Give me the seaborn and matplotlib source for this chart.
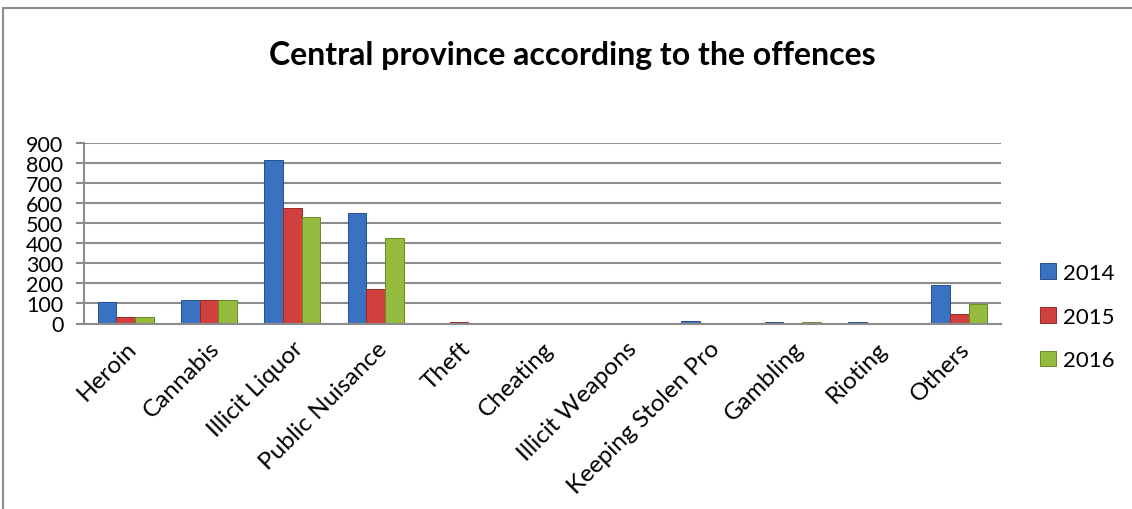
import matplotlib
matplotlib.use("Agg")
import matplotlib.pyplot as plt
from matplotlib.lines import Line2D
import seaborn as sns
import pandas as pd

# Offence categories and yearly counts
offences = ["Heroin", "Cannabis", "Illicit Liquor", "Public Nuisance", "Theft",
            "Cheating", "Illicit Weapons", "Keeping Stolen Pro", "Gambling",
            "Rioting", "Others"]
years = ["2014", "2015", "2016"]
counts_2014 = [105, 115, 815, 553, 0, 3, 0, 14, 5, 9, 190]
counts_2015 = [30, 115, 575, 170, 5, 0, 0, 0, 0, 0, 45]
counts_2016 = [30, 115, 530, 428, 0, 0, 0, 0, 5, 0, 95]
y_ticks = [0, 100, 200, 300, 400, 500, 600, 700, 800, 900]

colors = {"2014": "#3a72c2", "2015": "#d0403c", "2016": "#95bb3e"}
edges = {"2014": "#24508e", "2015": "#98292a", "2016": "#6a8a28"}
grid_col = "#8c8c8c"

df = pd.DataFrame({
    "offence": offences * 3,
    "year": [y for y in years for _ in offences],
    "count": counts_2014 + counts_2015 + counts_2016,
})

sns.set_style("white")
plt.rcParams["font.family"] = ["Lato", "DejaVu Sans"]
plt.rcParams["text.color"] = "black"
plt.rcParams["xtick.color"] = "black"
plt.rcParams["ytick.color"] = "black"
plt.rcParams["xtick.labelcolor"] = "black"
plt.rcParams["ytick.labelcolor"] = "black"

W, H = 1132, 510
fig = plt.figure(figsize=(W / 100, H / 100), dpi=100)
ax = fig.add_axes([84 / W, 1 - 324.5 / H, (1001 - 84) / W, (324.5 - 144.3) / H])

sns.barplot(data=df, x="offence", y="count", hue="year", order=offences,
            hue_order=years, palette=colors, width=0.67, gap=0,
            saturation=1, ax=ax, legend=False)

# darker outline per series
for cont, yr in zip(ax.containers, years):
    for bar in cont:
        bar.set_edgecolor(edges[yr])
        bar.set_linewidth(0.7)

ax.set_xlim(-0.5, len(offences) - 0.5)
ax.set_ylim(0, 900)
ax.set_yticks(y_ticks)
ax.set_yticklabels([str(v) for v in y_ticks], fontsize=15.5)
ax.yaxis.grid(True, color=grid_col, linewidth=1.5)
ax.set_axisbelow(True)
ax.tick_params(axis="y", length=5.8, width=1.5, color=grid_col, pad=9,
               direction="out", left=True, labelcolor="black")
ax.tick_params(axis="x", length=0, pad=10, labelcolor="black")
ax.set_xlabel("")
ax.set_ylabel("")

for side in ["top", "right"]:
    ax.spines[side].set_visible(False)
for side in ["left", "bottom"]:
    ax.spines[side].set_color(grid_col)
    ax.spines[side].set_linewidth(1.5)

ax.set_xticks(range(len(offences)))
ax.set_xticklabels(offences, rotation=45, ha="right", va="top",
                   rotation_mode="anchor", fontsize=17.5)

fig.text(572 / W, 1 - 55 / H, "Central province according to the offences",
         ha="center", va="center", fontsize=23, fontweight="bold",
         color="black")

# legend
handles = [plt.Rectangle((0, 0), 1, 1, facecolor=colors[y], edgecolor=edges[y],
                         linewidth=0.7) for y in years]
fig.legend(handles, years, loc="upper left", frameon=False,
           bbox_to_anchor=(1040 / W, 1 - 264 / H), borderpad=0,
           borderaxespad=0, fontsize=16, labelspacing=1.06,
           handlelength=0.7, handleheight=0.7, handletextpad=0.35)

# chart area border (left and top edges)
fig.add_artist(Line2D([3 / W, 3 / W], [0, 1 - 9 / H], color=grid_col,
                      linewidth=1.5, transform=fig.transFigure))
fig.add_artist(Line2D([3 / W, 1], [1 - 9 / H, 1 - 9 / H], color=grid_col,
                      linewidth=1.5, transform=fig.transFigure))

fig.savefig("out.png", dpi=100)
